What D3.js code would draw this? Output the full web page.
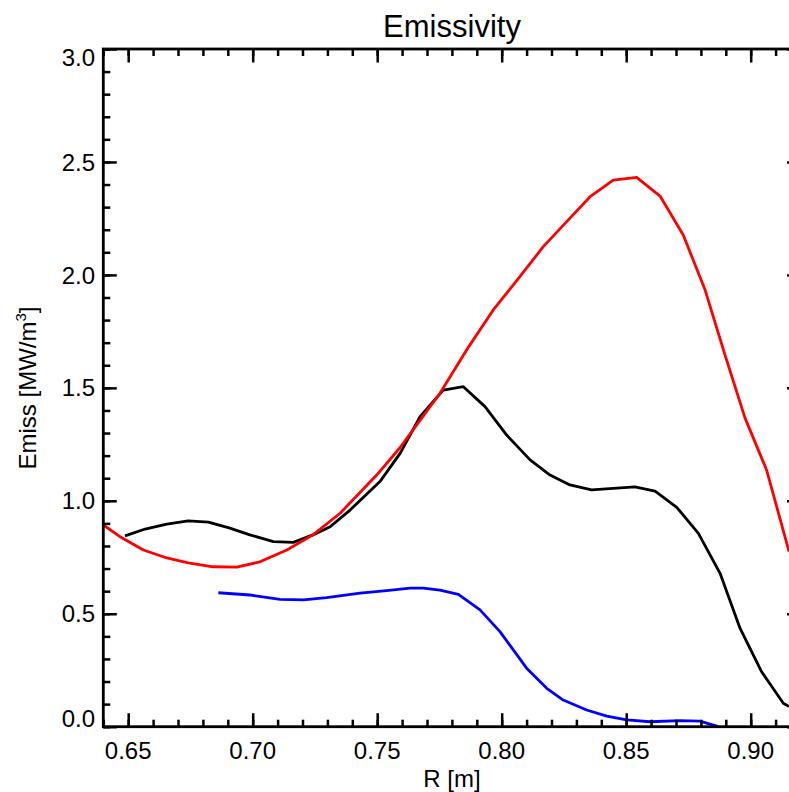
<!DOCTYPE html>
<html>
<head>
<meta charset="utf-8">
<script src="https://cdn.jsdelivr.net/npm/d3@7"></script>
<style>
  body { margin: 0; background: #fff; }
  svg { display: block; font-family: "Liberation Sans", Arial, sans-serif; }
</style>
</head>
<body>
<script>
// radius [m] and emissivity [MW/m^3] for each curve
var rBlack = [0.6487, 0.6568, 0.6655, 0.6741, 0.6822, 0.6905, 0.6989, 0.7083, 0.7163, 0.7242,
              0.7311, 0.7391, 0.7511, 0.7592, 0.7672, 0.7765, 0.7846, 0.7933, 0.8020, 0.8114,
              0.8194, 0.8274, 0.8361, 0.8448, 0.8535, 0.8616, 0.8703, 0.8790, 0.8877, 0.8957,
              0.9044, 0.9131, 0.9154]
var eBlack = [0.845, 0.875, 0.897, 0.911, 0.906, 0.880, 0.849, 0.819, 0.816, 0.849,
              0.885, 0.959, 1.085, 1.210, 1.372, 1.490, 1.505, 1.417, 1.291, 1.181,
              1.114, 1.070, 1.048, 1.055, 1.062, 1.043, 0.971, 0.856, 0.679, 0.436,
              0.243, 0.104, 0.089]

var rRed = [0.6400, 0.6467, 0.6561, 0.6655, 0.6741, 0.6841, 0.6936, 0.7029, 0.7137, 0.7242,
            0.7351, 0.7498, 0.7592, 0.7672, 0.7752, 0.7859, 0.7966, 0.8073, 0.8167,
            0.8261, 0.8355, 0.8448, 0.8542, 0.8636, 0.8729, 0.8817, 0.8897, 0.8977, 0.9064,
            0.9154]
var eRed = [0.893, 0.841, 0.782, 0.747, 0.725, 0.708, 0.706, 0.730, 0.782, 0.849,
            0.945, 1.114, 1.236, 1.356, 1.476, 1.668, 1.845, 1.992, 2.125,
            2.236, 2.346, 2.420, 2.432, 2.349, 2.177, 1.933, 1.645, 1.367, 1.136,
            0.775]

var rBlue = [0.6862, 0.6989, 0.7110, 0.7203, 0.7297, 0.7431, 0.7538, 0.7632, 0.7685, 0.7752,
             0.7826, 0.7913, 0.7993, 0.8100, 0.8181, 0.8247, 0.8341, 0.8422, 0.8502, 0.8596,
             0.8716, 0.8796, 0.8870]
var eBlue = [0.593, 0.583, 0.564, 0.561, 0.571, 0.591, 0.602, 0.613, 0.613, 0.605,
             0.586, 0.517, 0.421, 0.259, 0.170, 0.118, 0.074, 0.047, 0.030, 0.022,
             0.027, 0.025, 0.000]

var xTicks = [0.65, 0.70, 0.75, 0.80, 0.85, 0.90]
var yTicks = [0.0, 0.5, 1.0, 1.5, 2.0, 2.5, 3.0]

var width = 789
var height = 792
var margin = { top: 49, left: 103.3, right: 800.5, bottom: 726.7 }

var escalaX = d3.scaleLinear().domain([0.64, 0.92]).range([margin.left, margin.right])
var escalaY = d3.scaleLinear().domain([0, 3]).range([margin.bottom, margin.top])

var svg = d3.select("body").append("svg")
  .attr("width", width)
  .attr("height", height)

svg.append("clipPath").attr("id", "plotclip")
  .append("rect")
  .attr("x", margin.left).attr("y", margin.top)
  .attr("width", margin.right - margin.left)
  .attr("height", margin.bottom - margin.top)

function pares(rs, es) {
  return rs.map(function(r, i) { return [r, es[i]] })
}

var linea = d3.line()
  .x(function(d) { return escalaX(d[0]) })
  .y(function(d) { return escalaY(d[1]) })

var series = [
  { datos: pares(rBlack, eBlack), color: "#000000" },
  { datos: pares(rRed, eRed), color: "#ff0000" },
  { datos: pares(rBlue, eBlue), color: "#0000ff" }
]

svg.append("g").attr("clip-path", "url(#plotclip)")
  .selectAll("path")
  .data(series)
  .enter()
  .append("path")
  .attr("fill", "none")
  .attr("stroke", function(d) { return d.color })
  .attr("stroke-width", 2.8)
  .attr("stroke-linejoin", "round")
  .attr("d", function(d) { return linea(d.datos) })

// axes: ticks point inward on all four sides
var xMinor = d3.range(0.64, 0.9201, 0.01).map(function(v) { return +v.toFixed(2) })
var yMinor = d3.range(0, 3.001, 0.1).map(function(v) { return +v.toFixed(1) })

function eje(axisFn, scale, ticks, size) {
  return axisFn(scale).tickValues(ticks).tickSize(size).tickFormat("")
}

var ejes = svg.append("g")
ejes.append("g").attr("transform", "translate(0," + margin.bottom + ")")
  .call(eje(d3.axisTop, escalaX, xMinor, 7))
ejes.append("g").attr("transform", "translate(0," + margin.bottom + ")")
  .call(eje(d3.axisTop, escalaX, xTicks, 13.5))
ejes.append("g").attr("transform", "translate(0," + margin.top + ")")
  .call(eje(d3.axisBottom, escalaX, xMinor, 7))
ejes.append("g").attr("transform", "translate(0," + margin.top + ")")
  .call(eje(d3.axisBottom, escalaX, xTicks, 13.5))
ejes.append("g").attr("transform", "translate(" + margin.left + ",0)")
  .call(eje(d3.axisRight, escalaY, yMinor, 7))
ejes.append("g").attr("transform", "translate(" + margin.left + ",0)")
  .call(eje(d3.axisRight, escalaY, yTicks, 13.5))
ejes.append("g").attr("transform", "translate(" + margin.right + ",0)")
  .call(eje(d3.axisLeft, escalaY, yMinor, 7))
ejes.append("g").attr("transform", "translate(" + margin.right + ",0)")
  .call(eje(d3.axisLeft, escalaY, yTicks, 13.5))

ejes.selectAll(".domain").remove()
ejes.selectAll(".tick line").attr("stroke", "#000").attr("stroke-width", 2.5)

svg.append("rect")
  .attr("x", margin.left).attr("y", margin.top)
  .attr("width", margin.right - margin.left)
  .attr("height", margin.bottom - margin.top)
  .attr("fill", "none")
  .attr("stroke", "#000")
  .attr("stroke-width", 2.8)

// tick labels
svg.append("g").selectAll("text")
  .data(xTicks)
  .enter()
  .append("text")
  .attr("x", function(d) { return escalaX(d) })
  .attr("y", 759)
  .attr("text-anchor", "middle")
  .attr("font-size", 24)
  .text(function(d) { return d.toFixed(2) })

svg.append("g").selectAll("text")
  .data(yTicks)
  .enter()
  .append("text")
  .attr("x", 95)
  .attr("y", function(d, i) {
    var dy = 8.6
    if (i === 0) dy = 0.5
    if (i === yTicks.length - 1) dy = 16.8
    return escalaY(d) + dy
  })
  .attr("text-anchor", "end")
  .attr("font-size", 24)
  .text(function(d) { return d.toFixed(1) })

svg.append("text")
  .attr("x", 452).attr("y", 37)
  .attr("text-anchor", "middle")
  .attr("font-size", 31)
  .text("Emissivity")

svg.append("text")
  .attr("x", 452).attr("y", 787)
  .attr("text-anchor", "middle")
  .attr("font-size", 24)
  .text("R [m]")

var yLabel = svg.append("text")
  .attr("transform", "translate(36,388) rotate(-90)")
  .attr("text-anchor", "middle")
  .attr("font-size", 24)
yLabel.append("tspan").text("Emiss [MW/m")
yLabel.append("tspan").attr("font-size", 15).attr("dy", -10).text("3")
yLabel.append("tspan").attr("dy", 10).text("]")
</script>
</body>
</html>
